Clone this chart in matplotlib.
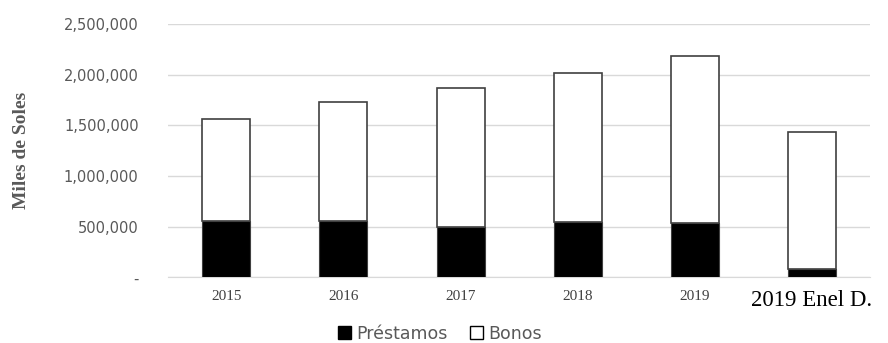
import numpy as np
import matplotlib.pyplot as plt
from matplotlib.patches import Patch
from matplotlib.ticker import FuncFormatter

categorias = ['2015', '2016', '2017', '2018', '2019', '2019 Enel D.']
prestamos = [555000, 558000, 499000, 542000, 535000, 82000]
bonos = [1005000, 1172000, 1369000, 1478000, 1645000, 1352000]

fig = plt.figure(figsize=(8.88, 3.43), dpi=100)
ax = fig.add_axes([0.189, 0.1915, 0.791, 0.7385])

x = np.arange(len(categorias))
ax.bar(x, prestamos, width=0.41, color='black', edgecolor='#404040', linewidth=0.8, zorder=3)
ax.bar(x, bonos, width=0.41, bottom=prestamos, color='white', edgecolor='#404040', linewidth=1.2, zorder=3)

ax.set_xlim(-0.5, len(categorias) - 0.5)
ax.set_ylim(0, 2500000)
ax.set_yticks(np.arange(0, 2500001, 500000))

def fmt(v, pos):
    return '-' if v == 0 else '{:,.0f}'.format(v)

ax.yaxis.set_major_formatter(FuncFormatter(fmt))
ax.grid(axis='y', color='#d9d9d9', linewidth=1, zorder=0)
for s in ['top', 'right', 'left']:
    ax.spines[s].set_visible(False)
ax.spines['bottom'].set_color('#d9d9d9')
ax.tick_params(axis='both', length=0)
ax.tick_params(axis='y', labelsize=10.5, labelcolor='#595959', pad=21)

ax.set_xticks(x)
ax.set_xticklabels(categorias, family='Liberation Serif')
ax.tick_params(axis='x', pad=9)
for i, lab in enumerate(ax.get_xticklabels()):
    if i == len(categorias) - 1:
        lab.set_fontsize(16.5)
        lab.set_color('black')
    else:
        lab.set_fontsize(11)
        lab.set_color('#404040')

ax.set_ylabel('Miles de Soles', family='Liberation Serif', fontweight='bold',
              fontsize=14, color='#595959')
ax.yaxis.set_label_coords(-0.196, 0.5)

handles = [Patch(facecolor='black', edgecolor='black', label='Préstamos'),
           Patch(facecolor='white', edgecolor='black', label='Bonos')]
fig.legend(handles=handles, loc='center', bbox_to_anchor=(0.495, 0.027), ncol=2,
           frameon=False, fontsize=12.5, labelcolor='#595959', handlelength=0.75,
           handleheight=0.75, handletextpad=0.3, columnspacing=1.3)

fig.savefig('out.png', dpi=100)
